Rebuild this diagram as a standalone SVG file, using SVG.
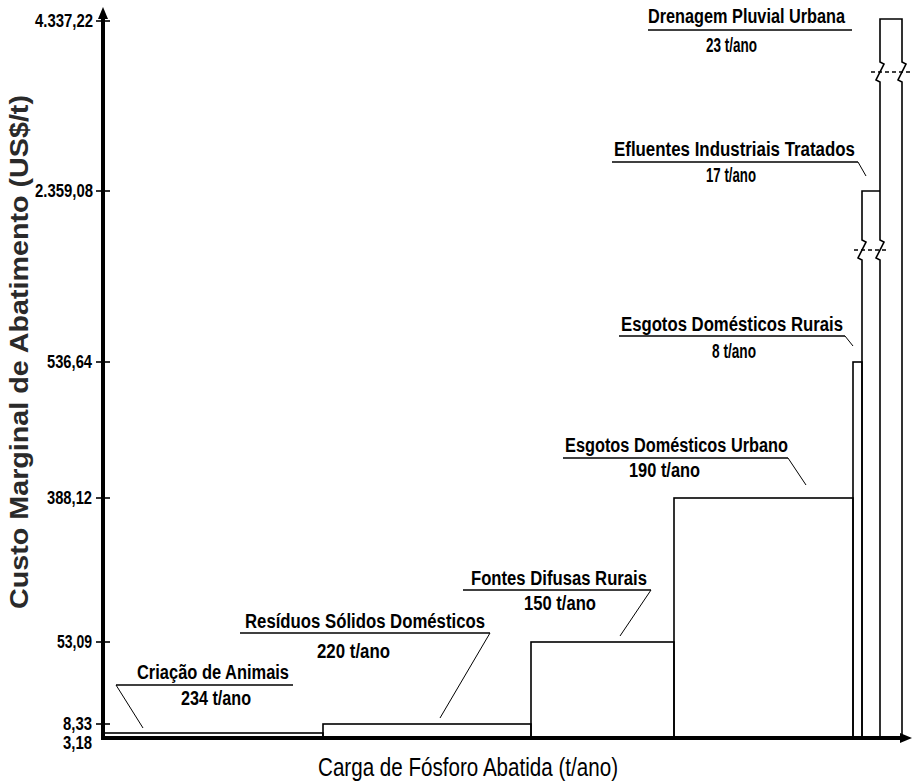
<svg xmlns="http://www.w3.org/2000/svg" width="913" height="782" viewBox="0 0 913 782">
<style>
.lbl{font-family:"Liberation Sans Narrow","Liberation Sans",Arial,sans-serif;font-weight:bold;font-size:20px;fill:#000;text-anchor:start}
.tick{font-family:"Liberation Sans Narrow","Liberation Sans",Arial,sans-serif;font-weight:bold;font-size:18px;fill:#000;text-anchor:start}
.bar{fill:none;stroke:#000;stroke-width:1.6}
.ul{fill:none;stroke:#000;stroke-width:1.4}
.ld{fill:none;stroke:#000;stroke-width:1}
.brk{fill:none;stroke:#000;stroke-width:1.4;stroke-dasharray:4 3}
.ax{fill:none;stroke:#000;stroke-width:4}
.tk{stroke:#000;stroke-width:1.6}
</style>
<rect width="913" height="782" fill="#fff"/>
<g id="axes">
  <line class="ax" x1="103" y1="740" x2="103" y2="16"/>
  <polygon points="103,7 98,19 108,19" fill="#000"/>
  <line class="ax" x1="101" y1="738" x2="904" y2="738"/>
  <polygon points="912,738 900,733 900,743" fill="#000"/>
  <g id="ticks">
    <line class="tk" x1="96" y1="21" x2="110" y2="21"/>
    <line class="tk" x1="96" y1="191" x2="110" y2="191"/>
    <line class="tk" x1="96" y1="362" x2="110" y2="362"/>
    <line class="tk" x1="96" y1="498" x2="110" y2="498"/>
    <line class="tk" x1="96" y1="642" x2="110" y2="642"/>
    <line class="tk" x1="96" y1="724" x2="110" y2="724"/>
  </g>
  <text class="tick" x="35" y="27" textLength="58" lengthAdjust="spacingAndGlyphs">4.337,22</text>
  <text class="tick" x="35" y="197" textLength="58" lengthAdjust="spacingAndGlyphs">2.359,08</text>
  <text class="tick" x="47" y="368" textLength="45" lengthAdjust="spacingAndGlyphs">536,64</text>
  <text class="tick" x="47" y="504" textLength="45" lengthAdjust="spacingAndGlyphs">388,12</text>
  <text class="tick" x="57" y="648" textLength="35" lengthAdjust="spacingAndGlyphs">53,09</text>
  <text class="tick" x="63" y="730" textLength="29" lengthAdjust="spacingAndGlyphs">8,33</text>
  <text class="tick" x="63" y="749" textLength="29" lengthAdjust="spacingAndGlyphs">3,18</text>
  <text x="318" y="776" textLength="300" lengthAdjust="spacingAndGlyphs" style="font-family:'Liberation Sans Narrow','Liberation Sans',Arial,sans-serif;font-size:26px;fill:#000">Carga de Fósforo Abatida (t/ano)</text>
  <text transform="translate(28,352) rotate(-90)" text-anchor="middle" textLength="514" lengthAdjust="spacingAndGlyphs" style="font-family:'Liberation Sans',Arial,sans-serif;font-weight:bold;font-size:26px;fill:#2a2a2a">Custo Marginal de Abatimento (US$/t)</text>
</g>
<g id="bars">
  <rect id="bar-criacao" class="bar" x="104" y="733" width="219" height="5"/>
  <rect id="bar-residuos" class="bar" x="323" y="724" width="208" height="14"/>
  <rect id="bar-fontes" class="bar" x="531" y="642" width="143" height="96"/>
  <rect id="bar-urbano" class="bar" x="674" y="498" width="179" height="240"/>
  <rect id="bar-rurais" class="bar" x="853" y="362" width="9" height="376"/>
  <path id="bar-efluentes" class="bar" d="M862,738 V260 L858,258 L866,242 L862,240 V191 H880"/>
  <path id="bar-drenagem" class="bar" d="M880,738 V260 L876,258 L884,242 L880,240 V82 L876,80 L884,64 L880,62 V19 H902 V62 L906,64 L898,80 L902,82 V738"/>
  <path class="brk" d="M871,72 H910"/>
  <path class="brk" d="M854,250 H888"/>
</g>
<g id="labels">
  <g id="lbl-drenagem">
    <text class="lbl" x="648" y="23" textLength="197" lengthAdjust="spacingAndGlyphs">Drenagem Pluvial Urbana</text>
    <line class="ul" x1="648" y1="30" x2="852" y2="30"/>
    <text class="lbl" x="706" y="52" textLength="51" lengthAdjust="spacingAndGlyphs">23 t/ano</text>
  </g>
  <g id="lbl-efluentes">
    <text class="lbl" x="614" y="156" textLength="241" lengthAdjust="spacingAndGlyphs">Efluentes Industriais Tratados</text>
    <polyline class="ul" points="612,162 858,162"/>
    <line class="ld" x1="858" y1="162" x2="866" y2="176"/>
    <text class="lbl" x="706" y="182" textLength="50" lengthAdjust="spacingAndGlyphs">17 t/ano</text>
  </g>
  <g id="lbl-rurais">
    <text class="lbl" x="621" y="331" textLength="222" lengthAdjust="spacingAndGlyphs">Esgotos Domésticos Rurais</text>
    <line class="ul" x1="619" y1="336" x2="845" y2="336"/>
    <line class="ld" x1="845" y1="336" x2="853" y2="346"/>
    <text class="lbl" x="712" y="358" textLength="44" lengthAdjust="spacingAndGlyphs">8 t/ano</text>
  </g>
  <g id="lbl-urbano">
    <text class="lbl" x="565" y="452" textLength="223" lengthAdjust="spacingAndGlyphs">Esgotos Domésticos Urbano</text>
    <line class="ul" x1="563" y1="458" x2="788" y2="458"/>
    <line class="ld" x1="788" y1="458" x2="806" y2="485"/>
    <text class="lbl" x="629" y="477" textLength="71" lengthAdjust="spacingAndGlyphs">190 t/ano</text>
  </g>
  <g id="lbl-fontes">
    <text class="lbl" x="471" y="585" textLength="176" lengthAdjust="spacingAndGlyphs">Fontes Difusas Rurais</text>
    <line class="ul" x1="463" y1="590" x2="651" y2="590"/>
    <line class="ld" x1="651" y1="590" x2="620" y2="636"/>
    <text class="lbl" x="524" y="610" textLength="72" lengthAdjust="spacingAndGlyphs">150 t/ano</text>
  </g>
  <g id="lbl-residuos">
    <text class="lbl" x="245" y="628" textLength="240" lengthAdjust="spacingAndGlyphs">Resíduos Sólidos Domésticos</text>
    <line class="ul" x1="240" y1="633" x2="490" y2="633"/>
    <line class="ld" x1="490" y1="633" x2="440" y2="718"/>
    <text class="lbl" x="317" y="658" textLength="73" lengthAdjust="spacingAndGlyphs">220 t/ano</text>
  </g>
  <g id="lbl-criacao">
    <text class="lbl" x="137" y="679" textLength="152" lengthAdjust="spacingAndGlyphs">Criação de Animais</text>
    <line class="ul" x1="116" y1="685" x2="293" y2="685"/>
    <line class="ld" x1="116" y1="685" x2="143" y2="728"/>
    <text class="lbl" x="181" y="705" textLength="70" lengthAdjust="spacingAndGlyphs">234 t/ano</text>
  </g>
</g>
</svg>
